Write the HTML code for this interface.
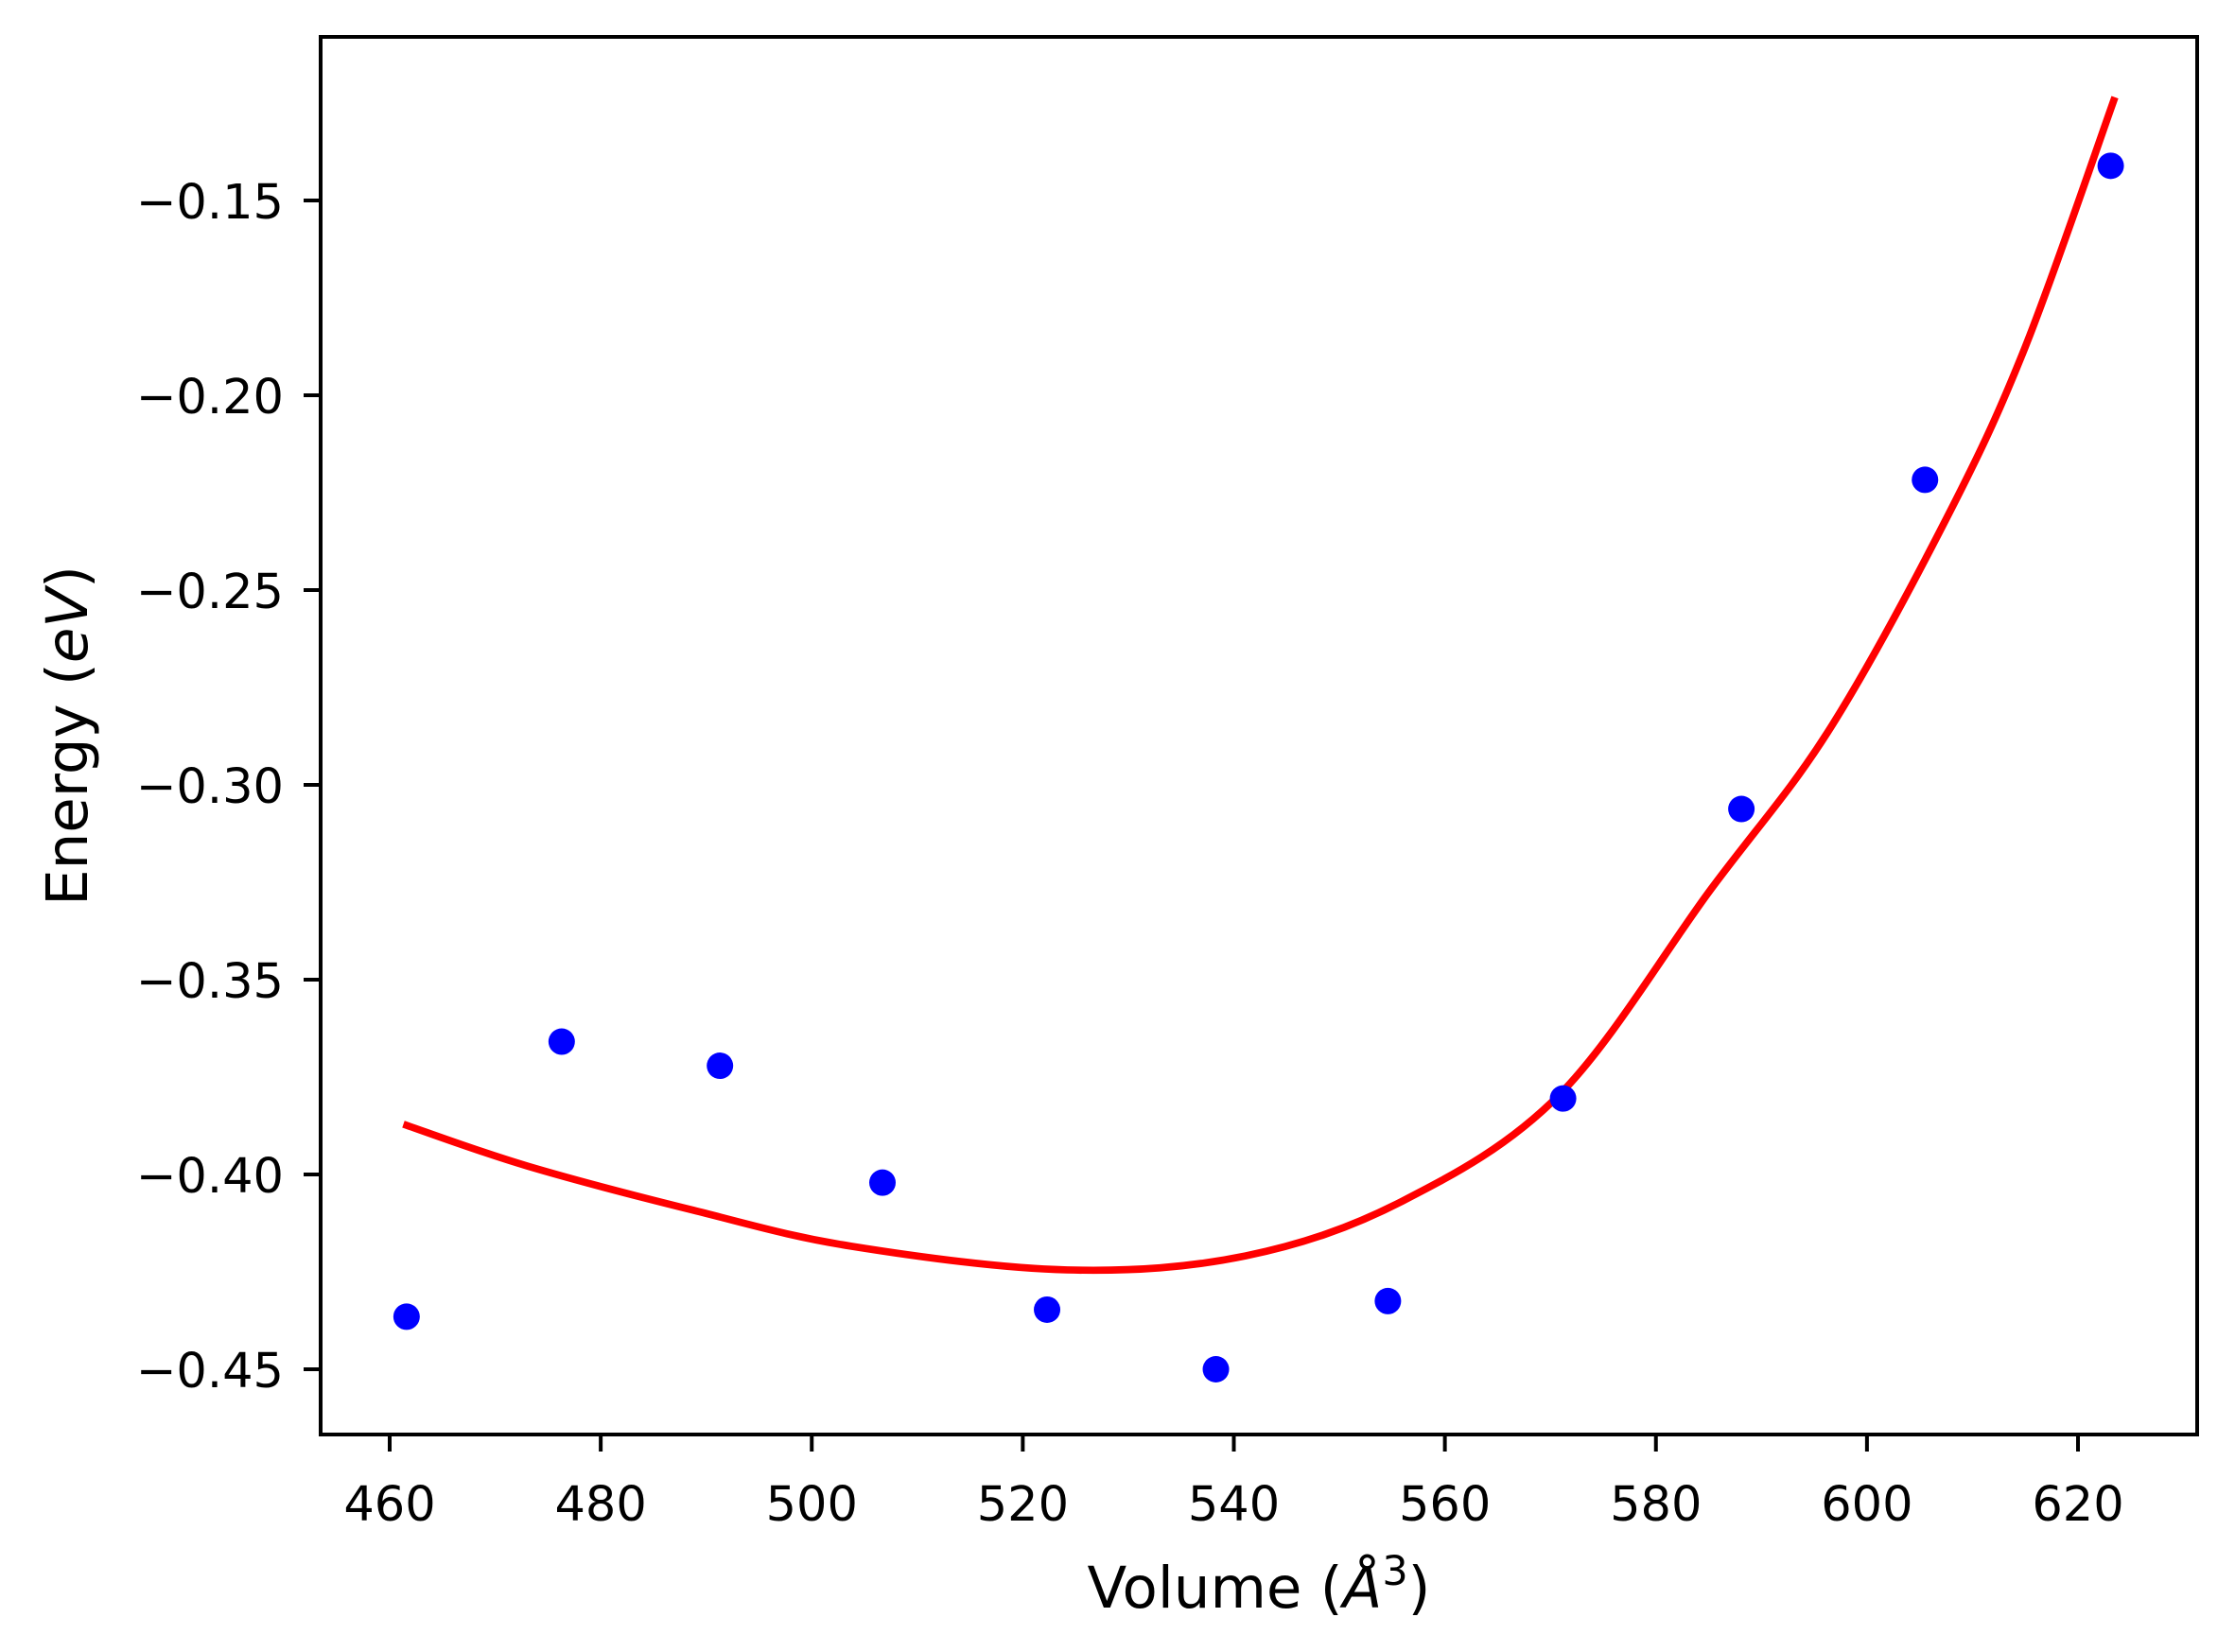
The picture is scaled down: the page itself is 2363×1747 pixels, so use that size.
<!DOCTYPE html>
<html><head><meta charset="utf-8"><style>
html,body{margin:0;padding:0;background:#fff;}
svg{display:block;}
text{font-family:"DejaVu Sans","Liberation Sans",sans-serif;fill:#000;}
</style></head><body>
<svg id="chart" width="2363" height="1747" viewBox="0 0 2363 1747" xmlns="http://www.w3.org/2000/svg">
<rect x="0" y="0" width="2363" height="1747" fill="#fff"/>
<g id="plot"></g>
<g id="axes"></g>
</svg>
<script>
const xTicks = [460, 480, 500, 520, 540, 560, 580, 600, 620];
const yTicks = [-0.45, -0.40, -0.35, -0.30, -0.25, -0.20, -0.15];
const yTickLabels = ["\u22120.45","\u22120.40","\u22120.35","\u22120.30","\u22120.25","\u22120.20","\u22120.15"];
const pointVolumes = [461.6, 476.3, 491.3, 506.7, 522.3, 538.3, 554.6, 571.2, 588.1, 605.5, 623.1];
const pointEnergies = [-0.4365, -0.3659, -0.3721, -0.4021, -0.4347, -0.4500, -0.4325, -0.3805, -0.3062, -0.2217, -0.1411];
const fitVolumes = [461.3, 473.0, 488.8, 503.7, 524.2, 541.1, 556.0, 570.9, 585.1, 596.3, 607.5, 615.0, 623.5];
const fitEnergies = [-0.3871, -0.3978, -0.4092, -0.4184, -0.4245, -0.4209, -0.4068, -0.3794, -0.3272, -0.2864, -0.2318, -0.1876, -0.1235];

const NS = "http://www.w3.org/2000/svg";
const L = 339, R = 2323, T = 39, B = 1517;
function xs(v){ return 412 + (v - 460) * (2197 - 412) / 160; }
function ys(e){ return 212 + (-0.15 - e) * (1448 - 212) / 0.30; }
function mk(tag, attrs, parent){
  const el = document.createElementNS(NS, tag);
  for (const k in attrs) el.setAttribute(k, attrs[k]);
  parent.appendChild(el);
  return el;
}
const plot = document.getElementById('plot');
const axes = document.getElementById('axes');

// fit curve (Catmull-Rom smoothing)
const pts = fitVolumes.map((v,i)=>[xs(v), ys(fitEnergies[i])]);
let d = `M${pts[0][0]},${pts[0][1]}`;
for (let i=0;i<pts.length-1;i++){
  const p0 = pts[Math.max(0,i-1)], p1 = pts[i], p2 = pts[i+1], p3 = pts[Math.min(pts.length-1,i+2)];
  const c1 = [p1[0]+(p2[0]-p0[0])/6, p1[1]+(p2[1]-p0[1])/6];
  const c2 = [p2[0]-(p3[0]-p1[0])/6, p2[1]-(p3[1]-p1[1])/6];
  d += ` C${c1[0]},${c1[1]} ${c2[0]},${c2[1]} ${p2[0]},${p2[1]}`;
}
const fit = mk('path', {d:d, fill:'none', stroke:'#ff0000', 'stroke-width':7.7}, plot);



pointVolumes.forEach((v,i)=>{
  const c = mk('circle', {cx:xs(v), cy:ys(pointEnergies[i]), r:14, fill:'#0000ff'}, plot);
  
  
});

const frame = mk('rect', {x:L, y:T, width:R-L, height:B-T, fill:'none', stroke:'#000', 'stroke-width':4}, axes);



xTicks.forEach(v=>{
  const x = xs(v);
  const t = mk('line', {x1:x, x2:x, y1:B, y2:B+18, stroke:'#000', 'stroke-width':4}, axes);
  
  
  const lb = mk('text', {x:x, y:1608, 'font-size':51, 'text-anchor':'middle'}, axes);
  lb.textContent = String(v);
  
  
});
yTicks.forEach((e,i)=>{
  const y = ys(e);
  const t = mk('line', {x1:L-18, x2:L, y1:y, y2:y, stroke:'#000', 'stroke-width':4}, axes);
  
  
  const lb = mk('text', {x:300, y:y+19, 'font-size':51, 'text-anchor':'end'}, axes);
  lb.textContent = yTickLabels[i];
  
  
});
</script>
<svg style="position:absolute;left:0;top:0" width="2363" height="1747">
<text x="1331" y="1700" font-size="61" text-anchor="middle" style="font-family:'DejaVu Sans',sans-serif">Volume (<tspan font-style="italic">Å</tspan><tspan font-size="43" dy="-24">3</tspan><tspan dy="24">)</tspan></text>
<text transform="translate(92,778) rotate(-90)" font-size="61" text-anchor="middle" style="font-family:'DejaVu Sans',sans-serif">Energy (<tspan font-style="italic">eV</tspan>)</text>
</svg>
</body></html>
